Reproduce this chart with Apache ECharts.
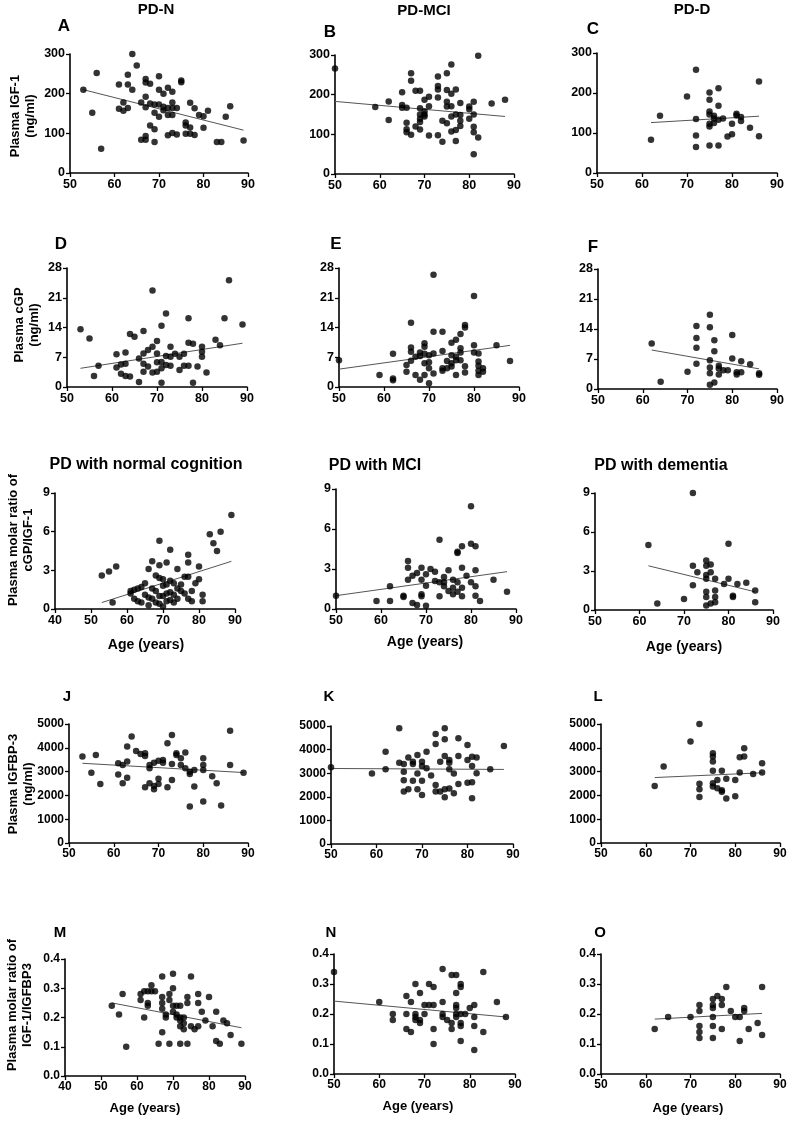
<!DOCTYPE html>
<html><head><meta charset="utf-8">
<script src="https://cdn.jsdelivr.net/npm/echarts@6/dist/echarts.min.js"></script>
<style>html,body{margin:0;padding:0;background:#fff}#c{width:792px;height:1121px}</style>
</head><body><div id="c"></div>
<script>
// ---- data: [age, value] ----
const dataA = [[53,210],[55,152],[56,252],[57,61],[61,223],[61,162],[62,178],[62,157],[63,248],[63,223],[63,164],[64,300],[64,210],[65,271],[66,178],[66,84],[67,237],[67,228],[67,192],[67,166],[67,93],[67,84],[68,225],[68,175],[68,120],[69,173],[69,152],[69,110],[69,78],[70,244],[70,210],[70,173],[70,142],[71,200],[71,167],[71,158],[72,215],[72,164],[72,146],[72,95],[73,205],[73,178],[73,164],[73,146],[73,101],[74,164],[74,97],[75,233],[75,229],[76,127],[76,120],[76,99],[77,177],[77,115],[77,99],[78,163],[78,96],[79,146],[80,143],[80,114],[81,157],[83,78],[84,78],[85,142],[86,168],[89,82]];
const trendA = [[53,210],[89,108]];
const dataB = [[50,266],[59,169],[62,183],[62,136],[65,206],[65,174],[65,167],[66,167],[66,129],[66,113],[66,105],[67,254],[67,235],[67,99],[68,210],[68,120],[69,210],[69,166],[69,150],[69,139],[69,131],[69,112],[70,187],[70,158],[70,150],[70,145],[71,195],[71,171],[71,97],[73,246],[73,222],[73,213],[73,193],[73,98],[74,134],[74,81],[75,254],[75,212],[75,182],[75,170],[75,128],[76,276],[76,202],[76,171],[76,145],[76,107],[77,213],[77,150],[77,111],[77,83],[78,179],[78,149],[78,134],[78,121],[80,170],[80,163],[80,139],[81,182],[81,150],[81,119],[81,105],[81,50],[82,298],[82,92],[85,178],[88,187]];
const trendB = [[50,183],[88,145]];
const dataC = [[62,83],[64,143],[70,191],[72,258],[72,135],[72,94],[72,65],[75,201],[75,183],[75,154],[75,146],[75,123],[75,116],[75,69],[76,143],[76,136],[76,125],[77,212],[77,168],[77,133],[77,69],[78,136],[79,91],[80,123],[80,97],[81,148],[81,144],[82,140],[82,130],[84,113],[86,229],[86,92]];
const trendC = [[62,126],[86,142]];
const dataD = [[53,13.6],[55,11.4],[56,2.6],[57,5.0],[61,7.7],[61,4.6],[62,5.3],[62,3.1],[63,8.1],[63,5.5],[63,2.6],[64,12.5],[64,2.5],[65,11.8],[66,6.7],[66,1.2],[67,13.2],[67,7.9],[67,5.5],[67,3.6],[68,8.7],[68,4.8],[69,22.7],[69,9.5],[69,3.4],[70,10.8],[70,7.9],[70,5.8],[70,3.6],[71,14.4],[71,5.9],[71,4.4],[71,1.0],[72,17.3],[72,7.3],[72,5.2],[73,9.5],[73,7.1],[73,5.0],[74,7.8],[75,7.1],[75,4.0],[76,7.8],[76,5.0],[77,16.2],[77,10.4],[77,5.0],[78,10.2],[78,1.0],[79,4.8],[80,9.5],[80,8.3],[80,7.1],[81,3.4],[83,11.1],[84,9.8],[85,16.2],[86,25.1],[89,14.7]];
const trendD = [[53,4.4],[89,10.3]];
const dataE = [[50,6.3],[59,2.8],[62,7.8],[62,2.0],[62,1.6],[65,5.2],[65,3.6],[66,15.1],[66,9.3],[66,8.3],[66,6.2],[67,7.1],[67,2.8],[68,8.1],[68,7.3],[68,1.7],[69,10.3],[69,9.5],[69,7.8],[69,5.6],[69,2.8],[70,7.5],[70,5.8],[70,4.4],[70,0.9],[71,26.4],[71,13.0],[71,7.9],[71,3.2],[73,13.0],[73,8.5],[73,4.4],[73,3.8],[74,6.1],[74,4.4],[75,10.4],[75,7.5],[75,5.6],[75,4.8],[76,11.1],[76,7.1],[76,6.3],[76,2.8],[77,12.5],[77,9.1],[77,8.1],[77,6.3],[78,14.6],[78,14.0],[78,4.9],[78,3.4],[80,21.4],[80,9.8],[80,8.1],[81,7.9],[81,6.0],[81,5.0],[81,3.8],[81,2.8],[82,4.4],[82,3.6],[85,9.8],[88,6.1]];
const trendE = [[50,4.2],[88,9.8]];
const dataF = [[62,10.6],[64,1.7],[70,4.0],[72,14.7],[72,11.9],[72,9.6],[72,5.9],[75,17.3],[75,14.4],[75,6.7],[75,5.0],[75,3.7],[75,1.0],[76,11.4],[76,8.8],[76,1.5],[77,5.4],[77,4.8],[77,3.4],[78,4.4],[79,4.4],[80,12.6],[80,7.1],[81,3.9],[81,3.4],[82,6.5],[82,3.9],[84,5.8],[86,3.7],[86,3.3]];
const trendF = [[62,9.1],[86,4.7]];
const dataG = [[53,2.6],[55,2.9],[56,0.5],[57,3.3],[61,1.4],[61,1.2],[62,1.5],[62,0.8],[63,1.6],[63,0.6],[64,1.7],[64,0.5],[65,2.0],[65,1.1],[66,3.1],[66,0.9],[66,0.3],[67,3.7],[67,1.6],[67,0.8],[68,1.4],[68,2.6],[68,0.5],[69,5.3],[69,3.4],[69,2.4],[69,1.0],[69,0.4],[70,2.3],[70,1.8],[70,1.0],[70,0.2],[71,3.6],[71,1.9],[71,1.2],[71,0.6],[72,4.6],[72,2.2],[72,1.3],[72,0.7],[73,1.1],[73,2.0],[73,0.5],[74,3.1],[74,1.6],[74,0.8],[75,1.4],[75,1.9],[76,2.5],[76,1.2],[77,4.2],[77,3.6],[77,2.5],[77,0.8],[78,1.4],[78,0.6],[79,2.0],[80,3.3],[80,2.3],[81,1.1],[81,0.6],[83,5.8],[84,5.1],[85,4.5],[86,6.0],[89,7.3]];
const trendG = [[53,0.5],[89,3.7]];
const dataH = [[50,1.0],[59,0.6],[62,1.7],[62,0.6],[65,1.0],[65,0.9],[66,3.6],[66,3.1],[66,2.2],[67,0.45],[67,2.5],[68,0.3],[68,2.7],[69,3.1],[69,1.1],[69,0.95],[69,2.2],[70,0.25],[70,2.6],[70,1.75],[71,3.0],[72,2.1],[72,2.8],[73,5.2],[73,0.95],[73,2.0],[74,1.7],[74,2.0],[74,2.4],[75,1.35],[75,2.9],[76,1.6],[76,1.1],[76,2.2],[77,4.3],[77,4.2],[77,1.3],[77,2.0],[78,1.6],[78,4.7],[78,3.1],[78,0.95],[79,2.5],[80,7.7],[80,4.9],[80,2.0],[81,4.7],[81,1.7],[81,1.0],[81,2.9],[82,0.6],[85,2.2],[88,1.3]];
const trendH = [[50,1.0],[88,2.8]];
const dataI = [[62,5.0],[64,0.5],[70,0.85],[72,9.0],[72,3.4],[72,1.9],[73,2.9],[75,3.8],[75,3.4],[75,2.7],[75,2.4],[75,1.4],[75,1.0],[75,0.35],[76,3.5],[76,2.9],[76,0.5],[77,2.4],[77,1.5],[77,1.0],[77,0.6],[79,2.0],[80,5.1],[80,2.4],[81,1.1],[81,1.0],[82,2.0],[84,2.1],[86,1.5],[86,0.6]];
const trendI = [[62,3.4],[86,1.4]];
const dataJ = [[53,3630],[55,2950],[56,3700],[57,2480],[61,3350],[61,2880],[62,3280],[62,2510],[63,4050],[63,3420],[63,2740],[64,4470],[65,3870],[66,3740],[67,3660],[67,3770],[67,2340],[68,3280],[68,3140],[68,2510],[69,3370],[69,2400],[69,2260],[70,3460],[70,2480],[70,2700],[71,3490],[71,3370],[72,4190],[72,2340],[73,3320],[73,4540],[73,2650],[74,3770],[74,3700],[75,3560],[75,3280],[76,3140],[76,3800],[77,2990],[77,2900],[77,1530],[78,3070],[78,2370],[80,3070],[80,3560],[80,3280],[80,1740],[82,2800],[83,2510],[84,1580],[86,3280],[86,4720],[89,2950]];
const trendJ = [[53,3350],[89,2960]];
const dataK = [[50,3250],[59,2990],[62,3910],[62,3170],[65,4900],[65,3440],[66,3390],[66,3060],[66,2220],[66,2700],[67,3670],[67,2320],[68,3490],[68,3390],[68,2680],[69,3770],[69,2320],[69,2990],[70,3490],[70,3300],[70,2080],[70,2680],[71,3910],[71,3210],[72,2900],[73,4660],[73,4240],[73,2500],[73,2220],[74,3490],[74,2220],[75,4900],[75,4440],[75,3730],[75,2320],[75,1980],[76,3560],[76,3440],[76,3170],[76,2350],[77,2990],[77,2150],[78,4480],[78,3730],[78,2540],[80,3560],[80,4200],[80,2600],[81,3700],[81,3300],[81,2620],[81,1940],[82,3670],[82,3000],[85,3170],[88,4150]];
const trendK = [[50,3200],[88,3160]];
const dataL = [[62,2400],[64,3210],[70,4260],[72,5000],[72,2490],[72,2260],[72,1930],[75,3770],[75,3630],[75,3420],[75,3040],[75,2510],[75,2370],[76,2300],[76,2650],[77,3040],[77,2220],[77,2150],[78,1870],[78,2700],[80,1960],[80,2650],[81,3600],[81,2960],[82,3980],[82,3630],[84,2900],[86,3350],[86,2960]];
const trendL = [[62,2750],[86,2950]];
const dataM = [[53,0.24],[55,0.21],[56,0.28],[57,0.10],[61,0.28],[61,0.26],[62,0.29],[62,0.20],[63,0.29],[63,0.25],[63,0.24],[64,0.31],[64,0.29],[65,0.29],[66,0.11],[67,0.34],[67,0.27],[67,0.25],[67,0.23],[67,0.15],[68,0.21],[68,0.20],[69,0.28],[69,0.26],[69,0.11],[70,0.35],[70,0.30],[70,0.24],[70,0.22],[71,0.21],[71,0.20],[71,0.24],[72,0.20],[72,0.19],[72,0.17],[72,0.24],[72,0.11],[73,0.18],[73,0.20],[73,0.16],[74,0.27],[74,0.25],[74,0.11],[75,0.34],[75,0.17],[76,0.16],[77,0.25],[77,0.17],[77,0.28],[78,0.22],[79,0.19],[80,0.27],[81,0.17],[82,0.22],[82,0.12],[83,0.11],[84,0.19],[85,0.18],[86,0.14],[89,0.11]];
const trendM = [[53,0.25],[89,0.165]];
const dataN = [[50,0.34],[60,0.24],[63,0.20],[63,0.18],[66,0.26],[66,0.20],[66,0.15],[67,0.24],[67,0.14],[68,0.30],[68,0.20],[68,0.18],[68,0.19],[69,0.27],[69,0.18],[69,0.17],[70,0.23],[70,0.20],[71,0.30],[71,0.23],[72,0.29],[72,0.23],[72,0.15],[72,0.10],[74,0.35],[74,0.24],[74,0.20],[74,0.19],[75,0.18],[76,0.33],[76,0.15],[76,0.17],[77,0.33],[77,0.27],[77,0.20],[77,0.19],[77,0.23],[77,0.22],[78,0.29],[78,0.30],[78,0.20],[78,0.16],[78,0.17],[78,0.11],[79,0.20],[80,0.22],[81,0.23],[81,0.19],[81,0.16],[81,0.08],[83,0.34],[83,0.14],[86,0.24],[88,0.19]];
const trendN = [[50,0.243],[88,0.19]];
const dataO = [[62,0.15],[65,0.19],[70,0.19],[72,0.23],[72,0.21],[72,0.16],[72,0.14],[72,0.12],[75,0.25],[75,0.23],[75,0.22],[75,0.19],[75,0.16],[75,0.12],[76,0.26],[77,0.25],[77,0.23],[78,0.29],[77,0.15],[79,0.21],[80,0.19],[81,0.19],[81,0.11],[82,0.22],[82,0.21],[83,0.15],[85,0.17],[86,0.29],[86,0.13]];
const trendO = [[62,0.183],[86,0.202]];

// ---- axes ----
const panelData  = [dataA,dataB,dataC,dataD,dataE,dataF,dataG,dataH,dataI,dataJ,dataK,dataL,dataM,dataN,dataO];
const panelTrend = [trendA,trendB,trendC,trendD,trendE,trendF,trendG,trendH,trendI,trendJ,trendK,trendL,trendM,trendN,trendO];
const xMins   = [50,50,50, 50,50,50, 40,50,50, 50,50,50, 40,50,50];
const xMax = 90, xInterval = 10;
const rowYMax = [300, 28, 9, 5000, 0.4];
const rowYInterval = [100, 7, 3, 1000, 0.1];
const panelLetters = ['A','B','C','D','E','F','','','','J','K','L','M','N','O'];
const columnTitles = ['PD-N','PD-MCI','PD-D'];
const row3Titles = ['PD with normal cognition','PD with MCI','PD with dementia'];
const xAxisName = 'Age (years)';
const yNames = ['Plasma IGF-1\n(ng/ml)','Plasma cGP\n(ng/ml)','Plasma molar ratio of\ncGP/IGF-1','Plasma IGFBP-3\n(ng/ml)','Plasma molar ratio of\nIGF-1/IGFBP3'];

// ---- layout ----
const gridRects = [
  [70,54,178,119],[335,55,179,119],[597,53,180,120],
  [67,268,180,119],[339,268,180,119],[598,269,179,120],
  [55,493,180,116],[336,489,180,120],[595,493,178,117],
  [69,724,179,119],[331,726,182,118],[601,724,179,119],
  [65,959,180,117],[334,954,181,120],[601,954,179,120]
];
const letterPos = [[64,26],[330,32],[593,29],[61,244],[336,244],[593,247],null,null,null,[67,697],[329,697],[598,697],[60,933],[331,933],[600,933]];
const titlePos = [[156,10],[424,11],[692,10]];
const row3TitlePos = [[146,465],[375,466],[661,466]];
const agePos = [[146,645],[425,642],[684,647],[145,1108],[418,1106],[688,1108]];
const yNamePos = [[23,116],[27,325],[21,540],[21,784],[20,1005]];

const LS = '"Liberation Sans", Arial, sans-serif';

const grids = [], xAxes = [], yAxes = [], series = [];
for (let i = 0; i < 15; i++) {
  const row = Math.floor(i / 3);
  const r = gridRects[i];
  const fs = row < 3 ? 12.5 : 12;
  grids.push({left: r[0], top: r[1], width: r[2], height: r[3], containLabel: false});
  const axisCommon = {
    gridIndex: i, type: 'value',
    axisLine: {show: true, onZero: false, lineStyle: {color: '#000', width: 1.6}},
    axisTick: {show: true, length: 4, lineStyle: {color: '#000', width: 1.3}},
    splitLine: {show: false},
    axisLabel: {color: '#000', fontWeight: 'bold', fontFamily: LS, fontSize: fs, margin: 5}
  };
  xAxes.push(Object.assign({}, axisCommon, {min: xMins[i], max: xMax, interval: xInterval}));
  const yi = rowYInterval[row];
  yAxes.push(Object.assign({}, axisCommon, {
    min: 0, max: rowYMax[row], interval: yi,
    axisLabel: Object.assign({}, axisCommon.axisLabel, {
      formatter: row === 4 ? (v => v.toFixed(1)) : (v => String(v))
    })
  }));
  series.push({
    type: 'line', xAxisIndex: i, yAxisIndex: i, data: panelTrend[i],
    symbol: 'none', silent: true, z: 2,
    lineStyle: {color: '#555', width: 1}
  });
  series.push({
    type: 'scatter', xAxisIndex: i, yAxisIndex: i, data: panelData[i],
    symbol: 'circle', symbolSize: 6.5, z: 3,
    itemStyle: {color: '#000'}
  });
}

const graphics = [];
function txt(x, y, text, size, rot) {
  graphics.push({
    type: 'text', x: x, y: y, rotation: rot || 0, silent: true,
    style: {text: text, fill: '#000', fontFamily: LS, fontSize: size, fontWeight: 'bold',
      align: 'center', verticalAlign: 'middle', textAlign: 'center', textVerticalAlign: 'middle',
      lineHeight: Math.round(size * 1.12)}
  });
}
columnTitles.forEach((t, k) => txt(titlePos[k][0], titlePos[k][1], t, 15));
row3Titles.forEach((t, k) => txt(row3TitlePos[k][0], row3TitlePos[k][1], t, 16));
panelLetters.forEach((t, k) => { if (t) txt(letterPos[k][0], letterPos[k][1], t, k < 9 ? 17 : 15); });
agePos.forEach((p, k) => txt(p[0], p[1], xAxisName, k < 3 ? 14 : 13));
yNames.forEach((t, k) => txt(yNamePos[k][0], yNamePos[k][1], t, 13, Math.PI / 2));

const chart = echarts.init(document.getElementById('c'), null, {renderer: 'canvas'});
chart.setOption({
  animation: false,
  backgroundColor: '#fff',
  grid: grids, xAxis: xAxes, yAxis: yAxes, series: series,
  graphic: graphics
});
</script></body></html>
